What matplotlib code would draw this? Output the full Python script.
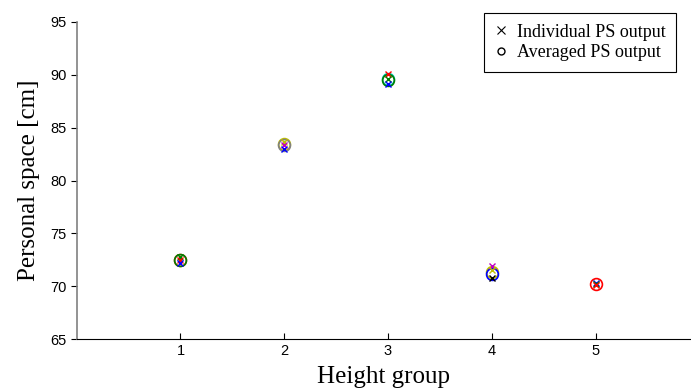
import matplotlib
matplotlib.use("Agg")
import matplotlib.pyplot as plt

# individual PS outputs per height group (x markers)
groups = [1, 2, 3, 4, 5]
indiv = {
    1: [(72.75, 'g'), (72.5, 'r'), (72.2, 'b')],
    2: [(83.6, 'y'), (83.4, 'm'), (83.0, 'b')],
    3: [(90.1, 'r'), (89.6, 'g'), (89.1, 'b')],
    4: [(71.9, 'm'), (71.5, 'y'), (70.8, 'k')],
    5: [(70.3, 'b'), (70.2, 'g'), (70.1, 'r')],
}
# averaged PS outputs (circles)
avg = {
    1: [(72.5, 'r'), (72.45, 'g')],
    2: [(83.45, 'y'), (83.35, 'gray')],
    3: [(89.6, 'c'), (89.5, 'g')],
    4: [(71.3, 'y'), (71.2, 'b')],
    5: [(70.2, 'r')],
}

plt.rcParams['font.family'] = 'Liberation Sans'
fig = plt.figure(figsize=(6.91, 3.92), dpi=100)
ax = fig.add_axes([0.111, 0.135, 0.889, 0.809])

for g in groups:
    for v, c in avg[g]:
        ax.plot(g, v, 'o', mfc='none', mec=c, ms=8.5, mew=1.2)
    for v, c in indiv[g]:
        ax.plot(g, v, 'x', color=c, ms=5, mew=1.0)

ax.set_xlim(0, 5.92)
ax.set_ylim(65, 95)
ax.set_xticks(groups)
ax.set_yticks(range(65, 96, 5))
ax.spines['top'].set_visible(False)
ax.spines['right'].set_visible(False)
ax.spines['left'].set_color('#808080')
ax.spines['left'].set_linewidth(1.2)
ax.tick_params(labelsize=10.5, direction='in', length=4)
ax.tick_params(axis='y', direction='out', length=4)
ax.set_xlabel('Height group', family='Liberation Serif', fontsize=18, labelpad=6)
ax.set_ylabel('Personal space [cm]', family='Liberation Serif', fontsize=18, labelpad=7)

h1, = ax.plot([], [], 'x', color='k', ms=6, mew=0.8)
h2, = ax.plot([], [], 'o', mfc='none', mec='k', ms=5)
leg = ax.legend([h1, h2], ['Individual PS output', 'Averaged PS output'],
                loc='upper right', bbox_to_anchor=(0.992, 0.99),
                bbox_transform=fig.transFigure, fancybox=False,
                edgecolor='k', handlelength=0.6, handletextpad=0.6,
                prop={'family': 'Liberation Serif', 'size': 13},
                borderpad=0.6, labelspacing=0.2, framealpha=1)
leg.get_frame().set_linewidth(0.8)

fig.savefig('out.png', dpi=100)
